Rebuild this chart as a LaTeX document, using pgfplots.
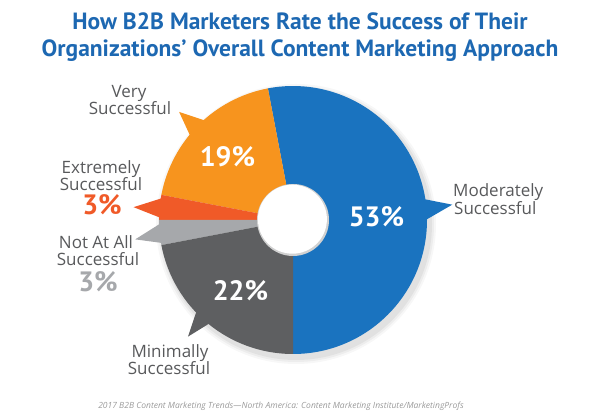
\documentclass[border=0pt]{standalone}
\usepackage{pgfplots}
\pgfplotsset{compat=1.18}
\usepackage{pgfplotstable}
\usepackage{fontspec}
\setmainfont{Open Sans}
\newfontfamily\ptsans{PT Sans}

\definecolor{col0}{HTML}{1A73BF}
\definecolor{col1}{HTML}{F7941E}
\definecolor{col2}{HTML}{F05A28}
\definecolor{col3}{HTML}{A6A8AB}
\definecolor{col4}{HTML}{5E5F61}
\definecolor{titleblue}{HTML}{1D68B2}
\definecolor{labelgray}{HTML}{58595B}
\definecolor{srcgray}{HTML}{9A9A9A}

% value = share in percent; b1,b2 = base angles of the callout pointer; ta,tr = tip angle and radius
\pgfplotstableread{
label value b1 b2 ta tr
Moderately 53 -1.5 10 5.5 160
Very 19 130 142 136.5 157
Extremely 3 169.2 180 175.4 160
NotAtAll 3 180 190.8 187 159
Minimally 22 222 232 228 157
}\piedata

\newcommand\slice[1]{%
  \fill[col#1] (C) -- ([shift={(C)}]\csname s#1\endcsname:134pt)
     arc[start angle=\csname s#1\endcsname, end angle=\csname e#1\endcsname, radius=134pt] -- cycle;
  \fill[col#1] ([shift={(C)}]\csname ba#1\endcsname:127pt)
     -- ([shift={(C)}]\csname ta#1\endcsname:\csname tr#1\endcsname pt)
     -- ([shift={(C)}]\csname bb#1\endcsname:127pt) -- cycle;}

\begin{document}
\begin{tikzpicture}
\gdef\cum{-90}
\foreach \i in {0,...,4}{
  \pgfplotstablegetelem{\i}{value}\of\piedata
  \pgfmathsetmacro\tmpS{\cum}
  \pgfmathsetmacro\tmpE{\cum+3.6*\pgfplotsretval}
  \expandafter\xdef\csname s\i\endcsname{\tmpS}
  \expandafter\xdef\csname e\i\endcsname{\tmpE}
  \xdef\cum{\tmpE}
  \pgfplotstablegetelem{\i}{b1}\of\piedata
  \expandafter\xdef\csname ba\i\endcsname{\pgfplotsretval}
  \pgfplotstablegetelem{\i}{b2}\of\piedata
  \expandafter\xdef\csname bb\i\endcsname{\pgfplotsretval}
  \pgfplotstablegetelem{\i}{ta}\of\piedata
  \expandafter\xdef\csname ta\i\endcsname{\pgfplotsretval}
  \pgfplotstablegetelem{\i}{tr}\of\piedata
  \expandafter\xdef\csname tr\i\endcsname{\pgfplotsretval}
}
\useasboundingbox (0,0) rectangle (600pt,420pt);
\begin{axis}[at={(0,0)}, anchor=south west, scale only axis, width=600pt, height=420pt,
  xmin=0, xmax=600, ymin=0, ymax=420, hide axis, clip=false]
\coordinate (C) at (axis cs:293,200);
% soft drop shadow
\fill[black, opacity=0.03] ([shift={(3pt,-4pt)}]C) circle (140pt);
\fill[black, opacity=0.04] ([shift={(3pt,-4pt)}]C) circle (138pt);
\fill[black, opacity=0.05] ([shift={(3pt,-4pt)}]C) circle (136pt);
\slice{0}\slice{1}\slice{2}\slice{3}\slice{4}
% hole
\fill[black!18] (C) circle (36pt);
\fill[white] ([shift={(-0.6pt,0.8pt)}]C) circle (34.5pt);
% percentages
\begin{scope}[every node/.style={font=\ptsans\bfseries\fontsize{28}{28}\selectfont, anchor=base, inner sep=0pt}]
\node[white] at (axis cs:376.5,193.3) {53\%};
\node[white] at (axis cs:227.5,253.3) {19\%};
\node[white] at (axis cs:240.5,119.5) {22\%};
\node[col2] at (axis cs:102,205) {3\%};
\node[col3] at (axis cs:98,128) {3\%};
\end{scope}
% category labels
\begin{scope}[every node/.style={font=\fontsize{17}{17}\selectfont, text=labelgray, anchor=base, inner sep=0pt}]
\node at (axis cs:129,322.5) {Very};
\node at (axis cs:130,305.5) {Successful};
\node at (axis cs:101,246.5) {Extremely};
\node at (axis cs:101,229.5) {Successful};
\node at (axis cs:96,171) {Not At All};
\node at (axis cs:98,154) {Successful};
\node at (axis cs:170,62) {Minimally};
\node at (axis cs:169,45) {Successful};
\node[anchor=base west] at (axis cs:453,223) {Moderately};
\node[anchor=base west] at (axis cs:454,205) {Successful};
\end{scope}
% title
\node[font=\ptsans\bfseries\fontsize{23.5}{23.5}\selectfont, text=titleblue, anchor=base, inner sep=0pt] at (axis cs:300,390) {How B2B Marketers Rate the Success of Their};
\node[font=\ptsans\bfseries\fontsize{23.5}{23.5}\selectfont, text=titleblue, anchor=base, inner sep=0pt] at (axis cs:300,363) {Organizations’ Overall Content Marketing Approach};
% source
\node[font=\itshape\fontsize{8.5}{8.5}\selectfont, text=srcgray, anchor=base, inner sep=0pt] at (axis cs:281,11) {2017 B2B Content Marketing Trends—North America: Content Marketing Institute/MarketingProfs};
\end{axis}
\end{tikzpicture}
\end{document}
